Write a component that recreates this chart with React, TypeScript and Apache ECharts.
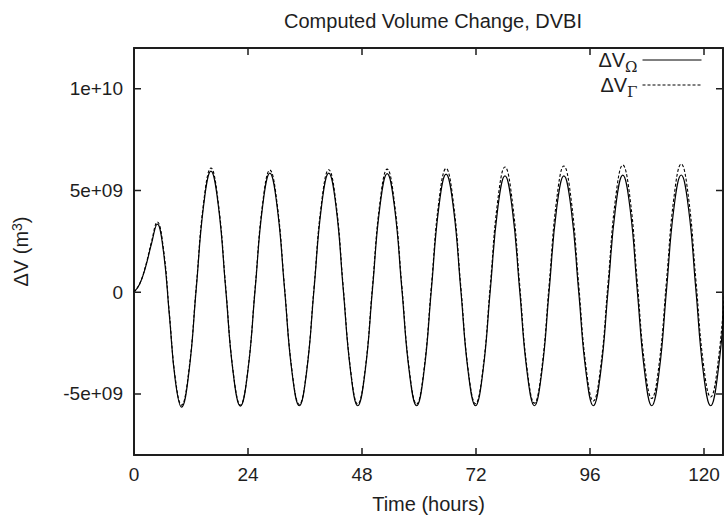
import React, { useEffect, useRef } from "react";
import * as echarts from "echarts";

// Time in hours
const hours = [
  0, 1.2, 2.45, 3.7, 4.9, 6.2, 7.45, 8.7, 10.0,
  11.55, 13.1, 14.65, 16.2,
  17.75, 19.3, 20.85, 22.4,
  23.95, 25.5, 27.05, 28.6,
  30.15, 31.7, 33.25, 34.8,
  36.35, 37.9, 39.45, 41.0,
  42.55, 44.05, 45.6, 47.1,
  48.65, 50.2, 51.75, 53.3,
  54.85, 56.4, 57.95, 59.5,
  61.05, 62.6, 64.15, 65.7,
  67.25, 68.8, 70.35, 71.9,
  73.45, 75.0, 76.55, 78.1,
  79.65, 81.2, 82.75, 84.3,
  85.85, 87.4, 88.95, 90.5,
  92.05, 93.6, 95.15, 96.7,
  98.25, 99.8, 101.35, 102.9,
  104.45, 105.95, 107.5, 109.0,
  110.55, 112.1, 113.65, 115.2,
  116.75, 118.3, 119.85, 121.4,
  122.95, 124.5,
];

// Volume change, in units of 1e9 m^3
const dvOmega = [
  0, 0.4, 1.25, 2.4, 3.35, 2.0, -1.15, -4.35, -5.65,
  -3.95, 0.15, 4.25, 5.95,
  4.26, 0.175, -3.91, -5.6,
  -3.92, 0.125, 4.17, 5.85,
  4.17, 0.135, -3.91, -5.58,
  -3.9, 0.135, 4.17, 5.85,
  4.17, 0.135, -3.9, -5.58,
  -3.91, 0.125, 4.16, 5.83,
  4.16, 0.125, -3.91, -5.58,
  -3.91, 0.11, 4.13, 5.8,
  4.13, 0.11, -3.91, -5.58,
  -3.92, 0.07, 4.06, 5.72,
  4.06, 0.07, -3.92, -5.58,
  -3.92, 0.07, 4.06, 5.72,
  4.06, 0.07, -3.92, -5.58,
  -3.92, 0.085, 4.09, 5.75,
  4.09, 0.085, -3.92, -5.58,
  -3.92, 0.09, 4.1, 5.76,
  4.1, 0.09, -3.92, -5.58,
  -3.92, 0.1,
];

const dvGamma = [
  0, 0.42, 1.3, 2.5, 3.45, 2.13, -1.05, -4.23, -5.55,
  -3.84, 0.275, 4.39, 6.1,
  4.39, 0.275, -3.84, -5.55,
  -3.86, 0.225, 4.31, 6.0,
  4.31, 0.24, -3.83, -5.52,
  -3.83, 0.25, 4.33, 6.02,
  4.33, 0.26, -3.81, -5.5,
  -3.81, 0.275, 4.36, 6.05,
  4.36, 0.285, -3.79, -5.5,
  -3.79, 0.3, 4.39, 6.08,
  4.38, 0.29, -3.8, -5.48,
  -3.79, 0.325, 4.44, 6.15,
  4.45, 0.35, -3.75, -5.45,
  -3.74, 0.375, 4.49, 6.2,
  4.51, 0.425, -3.66, -5.35,
  -3.65, 0.45, 4.55, 6.25,
  4.57, 0.515, -3.54, -5.22,
  -3.53, 0.54, 4.61, 6.3,
  4.63, 0.575, -3.47, -5.15,
  -3.47, 0.6,
];

const seriesNames = ["ΔVΩ", "ΔVΓ"];
const xRange = [0, 124];
const yRange = [-8e9, 1.2e10];
const xTicks = [0, 24, 48, 72, 96, 120];
const yTicks = [-5e9, 0, 5e9, 1e10];
const yTickLabels = ["-5e+09", "0", "5e+09", "1e+10"];

const INK = "#1e1e1e";
const FONT = "Liberation Sans, Arial, Helvetica, sans-serif";
const TICK_LEN = 7;
const TICK_W = 1.5;

// Half-filled tick symbols: the filled half points into the plot; the other
// half is an empty (zero-area) sub-path that only widens the symbol's box.
const TICK_UP = "path://M0,0L1,0L1,1L0,1Z M0,2L1,2L0,2Z";
const TICK_DOWN = "path://M0,0L1,0L0,0Z M0,1L1,1L1,2L0,2Z";
const TICK_RIGHTWARD = "path://M0,0L0,1L0,0Z M1,0L2,0L2,1L1,1Z";
const TICK_LEFTWARD = "path://M0,0L1,0L1,1L0,1Z M2,0L2,1L2,0Z";

export default function App() {
  const ref = useRef<HTMLDivElement>(null);

  useEffect(() => {
    if (!ref.current) return;
    const chart = echarts.init(ref.current, null, { renderer: "svg" });

    const toPairs = (vals: number[]) => hours.map((h, i) => [h, vals[i] * 1e9]);
    const mkAxisLine = () => ({ show: true, onZero: false, lineStyle: { color: INK, width: 2 } });

    const tickSeries = (name: string, data: number[][], symbol: string, size: number[]) => ({
      name,
      type: "scatter",
      silent: true,
      clip: false,
      xAxisIndex: 0,
      yAxisIndex: 0,
      data,
      symbol,
      symbolSize: size,
      symbolKeepAspect: false,
      itemStyle: { color: INK, opacity: 1 },
      z: 5,
    });

    chart.setOption({
      animation: false,
      backgroundColor: "#ffffff",
      textStyle: { fontFamily: FONT, color: INK },
      title: {
        text: "Computed Volume Change, DVBI",
        left: 428,
        textAlign: "center",
        top: 6,
        textStyle: { fontFamily: FONT, fontSize: 20, fontWeight: "normal", color: INK },
      },
      legend: {
        orient: "vertical",
        right: 22,
        top: 50,
        padding: 0,
        itemGap: 1,
        align: "right",
        itemWidth: 59,
        itemHeight: 10,
        data: seriesNames,
        itemStyle: { opacity: 0 },
        lineStyle: { width: 1 },
        formatter: (name: string) => `{v|ΔV}{s|${name.slice(2)}}`,
        textStyle: {
          color: INK,
          fontFamily: FONT,
          rich: {
            v: { fontSize: 20, lineHeight: 28, fontFamily: FONT, color: INK },
            s: { fontSize: 15, lineHeight: 15, verticalAlign: "bottom", fontFamily: "DejaVu Serif, serif", color: INK },
          },
        },
      },
      grid: { left: 134, right: 1, top: 48, bottom: 65, containLabel: false },
      xAxis: [
        {
          type: "value",
          min: xRange[0],
          max: xRange[1],
          position: "bottom",
          name: "Time (hours)",
          nameLocation: "middle",
          nameGap: 39,
          nameTextStyle: { fontSize: 20, fontFamily: FONT, color: INK },
          axisLine: mkAxisLine(),
          axisTick: { show: false },
          axisLabel: { customValues: xTicks, fontSize: 19, fontFamily: FONT, color: INK, margin: 10 },
          splitLine: { show: false },
        },
        {
          type: "value",
          min: xRange[0],
          max: xRange[1],
          position: "top",
          axisLine: mkAxisLine(),
          axisTick: { show: false },
          axisLabel: { show: false },
          splitLine: { show: false },
        },
      ],
      yAxis: [
        {
          type: "value",
          min: yRange[0],
          max: yRange[1],
          position: "left",
          name: "{a|ΔV (m}{s|3}{a|)}",
          nameLocation: "middle",
          nameRotate: 90,
          nameGap: 102,
          nameTextStyle: {
            color: INK,
            rich: {
              a: { fontSize: 20, lineHeight: 22, fontFamily: FONT, color: INK },
              s: { fontSize: 14, lineHeight: 14, verticalAlign: "top", fontFamily: FONT, color: INK },
            },
          },
          axisLine: mkAxisLine(),
          axisTick: { show: false },
          axisLabel: {
            customValues: yTicks,
            fontSize: 19,
            fontFamily: FONT,
            color: INK,
            margin: 11,
            formatter: (v: number) => {
              const i = yTicks.findIndex((t) => Math.abs(t - v) < 1);
              return i >= 0 ? yTickLabels[i] : "";
            },
          },
          splitLine: { show: false },
        },
        {
          type: "value",
          min: yRange[0],
          max: yRange[1],
          position: "right",
          axisLine: mkAxisLine(),
          axisTick: { show: false },
          axisLabel: { show: false },
          splitLine: { show: false },
        },
      ],
      series: [
        {
          name: seriesNames[0],
          type: "line",
          xAxisIndex: 0,
          yAxisIndex: 0,
          data: toPairs(dvOmega),
          smooth: 0.45,
          symbol: "none",
          clip: true,
          color: "#000",
          lineStyle: { color: "#000", width: 1.2, type: "solid" },
        },
        {
          name: seriesNames[1],
          type: "line",
          xAxisIndex: 0,
          yAxisIndex: 0,
          data: toPairs(dvGamma),
          smooth: 0.45,
          symbol: "none",
          clip: true,
          color: "#000",
          lineStyle: { color: "#000", width: 1.1, type: [3, 2] },
        },
        tickSeries("ticksBottom", xTicks.map((t) => [t, yRange[0]]), TICK_UP, [TICK_W, TICK_LEN * 2]),
        tickSeries("ticksTop", xTicks.map((t) => [t, yRange[1]]), TICK_DOWN, [TICK_W, TICK_LEN * 2]),
        tickSeries("ticksLeft", yTicks.map((v) => [xRange[0], v]), TICK_RIGHTWARD, [TICK_LEN * 2, TICK_W]),
        tickSeries("ticksRight", yTicks.map((v) => [xRange[1], v]), TICK_LEFTWARD, [TICK_LEN * 2, TICK_W]),
      ],
    });

    return () => chart.dispose();
  }, []);

  return (
    <div
      ref={ref}
      style={{ position: "absolute", left: 0, top: 0, width: 724, height: 520, background: "#fff" }}
    />
  );
}
